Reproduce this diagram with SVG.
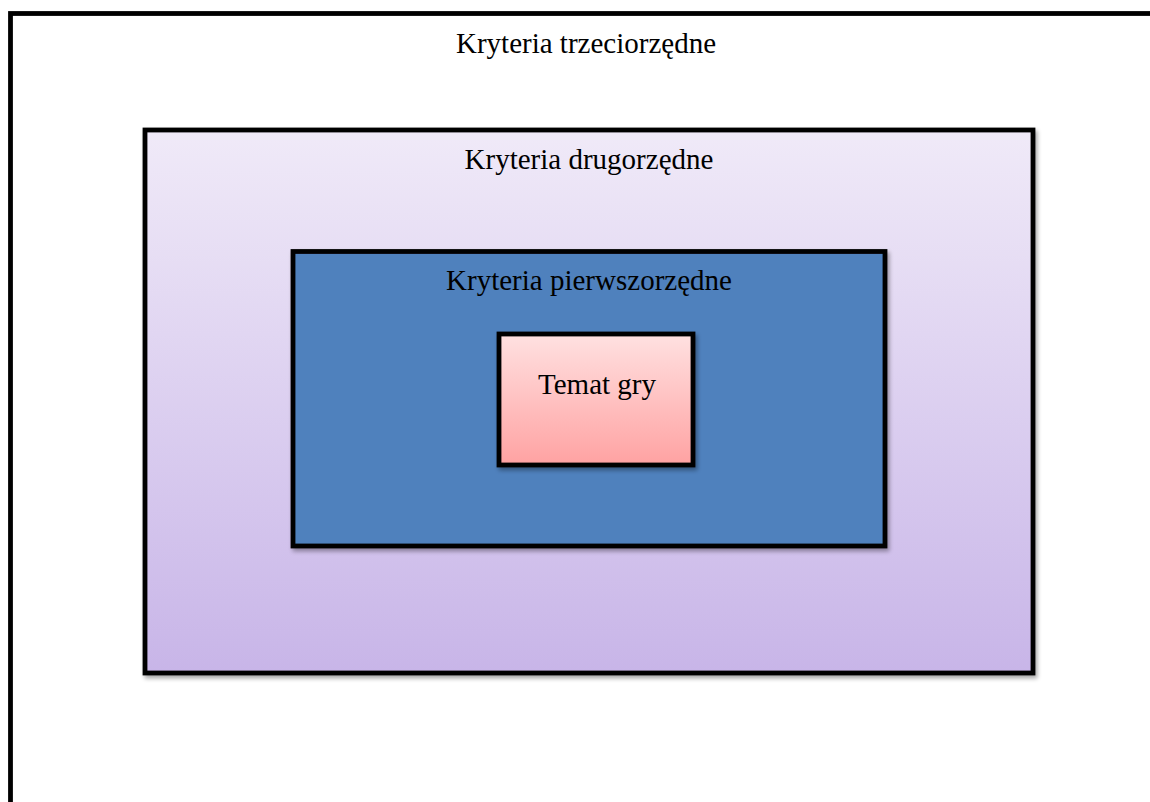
<svg xmlns="http://www.w3.org/2000/svg" width="1150" height="802" viewBox="0 0 1150 802">
  <defs>
    <linearGradient id="gradSecondary" x1="0" y1="0" x2="0" y2="1">
      <stop offset="0" stop-color="#f0eaf8"/>
      <stop offset="1" stop-color="#c8b5e8"/>
    </linearGradient>
    <linearGradient id="gradCore" x1="0" y1="0" x2="0" y2="1">
      <stop offset="0" stop-color="#ffe1e1"/>
      <stop offset="1" stop-color="#ffa2a2"/>
    </linearGradient>
    <filter id="shadow" x="-5%" y="-5%" width="110%" height="112%">
      <feGaussianBlur in="SourceAlpha" stdDeviation="2"/>
      <feOffset dx="2" dy="3" result="blur"/>
      <feComponentTransfer><feFuncA type="linear" slope="0.35"/></feComponentTransfer>
      <feMerge><feMergeNode/><feMergeNode in="SourceGraphic"/></feMerge>
    </filter>
  </defs>
  <style>
    .box { stroke: #000; stroke-width: 4.8; }
    .label { font-family: "Liberation Serif", "Times New Roman", serif; font-size: 29px; fill: #000; text-anchor: middle; }
  </style>

  <rect width="1150" height="802" fill="#fff"/>

  <g id="tertiary">
    <rect class="box" x="10.5" y="13.5" width="1160" height="820" fill="#fff"/>
    <text class="label" x="586" y="53">Kryteria trzeciorzędne</text>
  </g>

  <g id="secondary">
    <rect class="box" x="145" y="130" width="888" height="543" fill="url(#gradSecondary)" filter="url(#shadow)"/>
    <text class="label" x="589" y="168.5">Kryteria drugorzędne</text>
  </g>

  <g id="primary">
    <rect class="box" x="293" y="251.5" width="592" height="294.5" fill="#4f81bd" filter="url(#shadow)"/>
    <text class="label" x="589" y="289.5">Kryteria pierwszorzędne</text>
  </g>

  <g id="topic">
    <rect class="box" x="499" y="334" width="194" height="131" fill="url(#gradCore)" filter="url(#shadow)"/>
    <text class="label" x="597" y="394">Temat gry</text>
  </g>

  <g id="connectors"/>
</svg>
